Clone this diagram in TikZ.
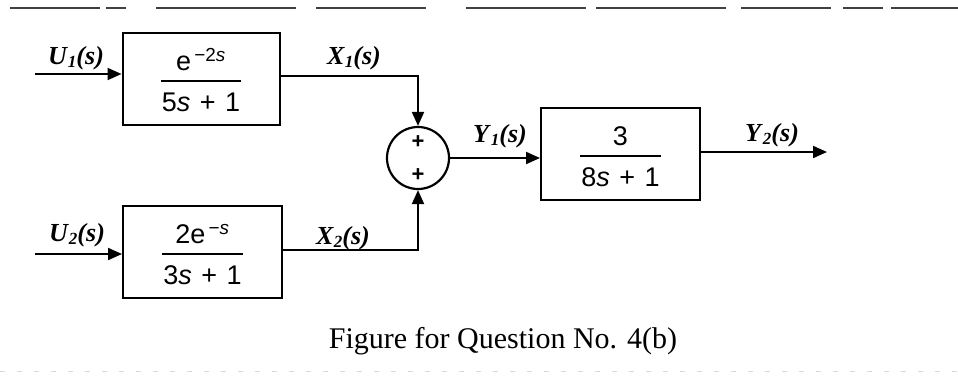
\documentclass[tikz,border=0pt]{standalone}
\usepackage{fontspec}
\setmainfont{Liberation Serif}
\setsansfont{Liberation Sans}
\usetikzlibrary{arrows.meta}
\newcommand{\blkfrac}[2]{\raisebox{-12pt}[0pt][0pt]{\sffamily\fontsize{27}{30}\selectfont\setlength{\arrayrulewidth}{2pt}\renewcommand{\arraystretch}{1.0}\begin{tabular}{@{\hspace{1pt}}c@{\hspace{1pt}}}#1\\[1pt]\hline\rule{0pt}{29pt}#2\end{tabular}}}
\newcommand{\sig}[2]{\textit{#1}\raisebox{-3pt}{\fontsize{17}{17}\selectfont\textit{#2}}\textit{(s)}}
\begin{document}
\begin{tikzpicture}[x=1pt,y=-1pt,
  blk/.style={draw, line width=2pt, rectangle, minimum width=157pt, minimum height=92pt, inner sep=0pt},
  sumj/.style={draw, line width=2.2pt, circle, minimum size=62pt, inner sep=0pt},
  sigwire/.style={line width=2pt, -{Triangle[length=14pt,width=12pt]}},
  lbl/.style={font=\bfseries\fontsize{26}{28}\selectfont, inner sep=0pt},
  pls/.style={font=\sffamily\bfseries\fontsize{22}{22}\selectfont, inner sep=0pt},
  edge/.style={line width=1.6pt, black!75}]
\useasboundingbox (0,0) rectangle (958,376);
% page edge lines
\draw[edge, dash pattern=on 90pt off 6pt on 20pt off 30pt on 140pt off 20pt on 110pt off 40pt on 120pt off 10pt on 130pt off 15pt on 90pt off 12pt on 40pt off 8pt]
  (10,8) coordinate (tl) -- (958,8) coordinate (tr);
\draw[line width=0.6pt, black!15, dash pattern=on 5pt off 12pt] (0,371) coordinate (bl) -- (958,371) coordinate (br);
% blocks
\node[blk] (b1) at (201,78.5) {\blkfrac{e\textsuperscript{\,−2\textit{s}}}{5\textit{s}\hspace{0.35em}+\hspace{0.35em}1}};
\node[blk, minimum width=159pt] (b2) at (202.5,252) {\blkfrac{2e\textsuperscript{\,−\textit{s}}}{3\textit{s}\hspace{0.35em}+\hspace{0.35em}1}};
\node[sumj] (sum) at (418,158) {};
\node[pls] (p1) at (418,142) {+};
\node[pls] (p2) at (418,175) {+};
\node[blk, minimum width=159pt] (b3) at (620.5,154) {\blkfrac{3}{8\textit{s}\hspace{0.35em}+\hspace{0.35em}1}};
% inputs / outputs
\coordinate (u1) at (35,74);
\coordinate (u2) at (35,254);
\coordinate (y2) at (827,152);
\draw[sigwire] (u1) -- (u1 -| b1.west);
\draw[sigwire] (u2) -- (u2 -| b2.west);
\draw[sigwire] ([yshift=3pt]b1.east) -| (sum.north);
\draw[sigwire] ([yshift=2pt]b2.east) -| (sum.south);
\draw[sigwire] (sum.east) -- (sum.east -| b3.west);
\draw[sigwire] (b3.east |- y2) -- (y2);
% labels
\node[lbl] (lu1) at (76,58) {\sig{U}{1}};
\node[lbl] (lu2) at (77,235) {\sig{U}{2}};
\node[lbl] (lx1) at (354,58) {\sig{X}{1}};
\node[lbl] (lx2) at (343,238) {\sig{X}{2}};
\node[lbl] (ly1) at (500,136) {\sig{Y}{1}};
\node[lbl] (ly2) at (772,135) {\sig{Y}{2}};
% caption
\node[font=\fontsize{30}{32}\selectfont, inner sep=0pt] (cap) at (503,341) {Figure for Question No. 4(b)};
\end{tikzpicture}
\end{document}
